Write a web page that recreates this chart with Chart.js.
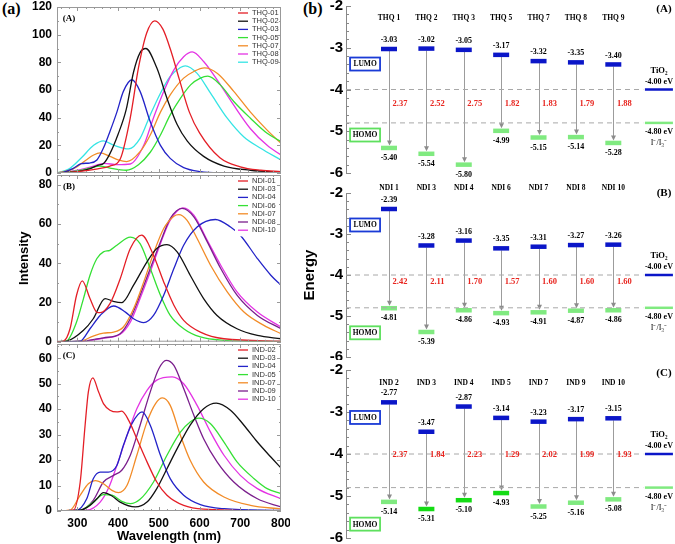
<!DOCTYPE html>
<html>
<head>
<meta charset="utf-8">
<script src="https://cdn.jsdelivr.net/npm/chart.js@4.4.0/dist/chart.umd.min.js"></script>
<style>
body { margin: 0; width: 675px; height: 544px; background: #fff; position: relative; overflow: hidden; }
canvas { position: absolute; }
.tag { position: absolute; font: bold 16px "Liberation Serif", serif; line-height: 16px; }
</style>
</head>
<body>
<div class="tag" style="left:2px;top:1px">(a)</div>
<div class="tag" style="left:303px;top:1px">(b)</div>
<canvas id="sA" width="290" height="176" style="left:0;top:0"></canvas>
<canvas id="sB" width="290" height="176" style="left:0;top:174px"></canvas>
<canvas id="sC" width="290" height="204" style="left:0;top:340px"></canvas>
<canvas id="eA" width="375" height="180" style="left:300px;top:0"></canvas>
<canvas id="eB" width="375" height="182" style="left:300px;top:178px"></canvas>
<canvas id="eC" width="375" height="184" style="left:300px;top:360px"></canvas>
<script>
// ---- (a) absorption spectra, [wavelength nm, intensity]
var wlTicks = [300, 400, 500, 600, 700, 800];
var thqTicks = [0, 20, 40, 60, 80, 100, 120];
var ndiTicks = [0, 20, 40, 60, 80];
var indTicks = [0, 10, 20, 30, 40, 50, 60];

var thqLabels = ['THQ-01', 'THQ-02', 'THQ-03', 'THQ-05', 'THQ-07', 'THQ-08', 'THQ-09'];
var thq01 = [[250,0],[300,1],[350,3],[380,5],[405,10],[430,40],[450,76],[470,101],[490,110],[510,104],[530,88],[550,68],[575,44],[600,29],[650,11],[700,4.5],[750,2],[800,1]];
var thq02 = [[250,0],[300,1],[330,3],[350,5.5],[365,7],[380,14],[400,28],[420,46],[438,73],[454,87],[468,90],[495,76],[520,54],[545,35],[570,23],[610,12],[660,5],[725,2],[800,0.5]];
var thq03 = [[250,0],[265,0.5],[290,3.4],[310,6.8],[330,7.2],[348,9.4],[364,18],[380,30],[397,44],[413,59],[434,67.4],[454,59],[479,37],[504,20],[528,10.6],[561,3.9],[602,1],[650,0.2],[800,0]];
var thq05 = [[250,0],[300,1.5],[330,3.5],[355,5],[380,3.5],[420,2],[450,6],[479,15],[504,27.5],[528,42],[553,54],[578,63.7],[602,68.6],[620,70],[651,63.7],[684,51.7],[725,39.6],[766,28.7],[800,22.7]];
var thq07 = [[250,0],[290,3],[320,9],[340,13],[356,14.5],[380,12],[400,9.5],[421,8.2],[454,15.4],[479,27.5],[504,44],[528,56.5],[561,68.6],[586,73.4],[612,76],[644,72],[684,59],[725,44],[766,31],[800,21.5]];
var thq08 = [[250,0],[300,2],[340,5],[365,7],[398,6],[430,6.5],[463,20],[487,40],[512,59],[537,74.6],[561,84],[582,87.5],[610,80.6],[644,67],[684,49],[725,32],[766,20],[800,13]];
var thq09 = [[250,0],[280,3],[310,11],[340,20],[364,23.2],[390,20],[426,17.4],[454,25],[479,42],[504,57.7],[528,69.8],[553,76.3],[565,77.5],[594,72],[627,57.7],[668,39.6],[709,26],[750,17.9],[800,9.4]];

var ndiLabels = ['NDI-01', 'NDI-03', 'NDI-04', 'NDI-06', 'NDI-07', 'NDI-08', 'NDI-10'];
var ndi01 = [[250,0],[266,0.3],[282,6.6],[298,23.7],[312,31],[331,22],[348,15],[356,14.8],[380,19.4],[405,32],[430,47.5],[458,54.3],[487,44],[512,30.5],[537,18.6],[561,10.9],[602,4.9],[660,1.5],[800,0.3]];
var ndi03 = [[250,0],[274,0.3],[315,5.8],[339,11.7],[368,22],[388,20.6],[409,19.9],[438,28.8],[471,40.7],[495,47.5],[520,49.5],[545,45.8],[577,33.9],[610,22],[643,13.4],[692,6.6],[742,3.2],[800,1.5]];
var ndi04 = [[250,0],[307,0.3],[331,6.6],[356,13.4],[389,18.2],[418,15.1],[438,11.7],[463,9.7],[487,13.4],[512,23.7],[537,37.3],[561,49.2],[594,58.5],[639,62.3],[676,58.5],[700,54.3],[742,42.4],[775,33.9],[800,28.8]];
var ndi06 = [[250,0],[274,0.5],[298,10],[315,22],[331,33.9],[348,42.4],[364,45.8],[380,46.6],[397,49.2],[430,53.3],[454,50],[479,37.3],[504,23.7],[528,13.4],[561,6.6],[602,2.4],[660,0.7],[800,0]];
var ndi07 = [[250,0],[307,0.3],[339,2.9],[364,4.4],[389,4.9],[413,7.5],[438,16.8],[463,30.5],[487,45],[512,57.7],[537,64],[549,64.8],[569,62],[594,52.6],[627,39],[668,25.4],[709,15.1],[758,8.3],[800,4.1]];
var ndi08 = [[250,0],[315,0.3],[364,2],[405,4.1],[430,11.7],[454,23.7],[479,37.3],[504,50.9],[528,62.8],[557,68],[586,63.7],[619,50.9],[652,37.3],[692,23.7],[742,13.4],[800,6.6]];
var ndi10 = [[250,0],[315,0.3],[364,1.8],[405,3.8],[430,10],[454,22],[479,35.6],[504,50],[528,62],[560,68.2],[586,64.5],[619,51.7],[652,39],[692,25.4],[742,15.1],[800,7.5]];

var indLabels = ['IND-02', 'IND-03', 'IND-04', 'IND-05', 'IND-07', 'IND-09', 'IND-10'];
var ind02 = [[250,0],[290,0.3],[307,11.4],[319,33.7],[327,46.8],[338,52.3],[352,46.8],[364,42.2],[380,39.6],[397,38.9],[409,39.2],[426,35.6],[446,28.4],[471,19.3],[495,11.4],[520,6.2],[561,2.2],[610,0.7],[800,0]];
var ind03 = [[250,0],[307,0.3],[331,2.2],[348,4.8],[364,7.2],[385,5.9],[405,3.5],[442,1.6],[471,3.5],[495,8.8],[520,16.6],[545,24.5],[577,33.7],[610,40.2],[641,42.4],[676,39.6],[709,33.7],[742,27.1],[775,21.2],[800,16.9]];
var ind04 = [[250,0],[298,0.3],[323,4.8],[339,12.7],[356,15.3],[376,15.3],[397,17.9],[413,25.8],[434,34.3],[459,38.9],[479,33.7],[504,21.9],[528,12.7],[561,6.2],[602,2.5],[660,0.9],[800,0.2]];
var ind05 = [[250,0],[307,0.3],[339,3.5],[364,6.4],[385,6.2],[409,3.8],[430,2.9],[454,4.6],[487,11.4],[520,21.9],[553,31],[577,35],[598,36.5],[627,34.3],[660,27.1],[692,19.3],[734,12.7],[766,8.8],[800,6.8]];
var ind07 = [[250,0],[282,0.3],[307,6.2],[327,10.7],[344,11.9],[364,10.7],[385,8.1],[401,7.2],[422,10.1],[446,21.9],[471,35],[492,42.2],[509,44.4],[528,41.5],[553,29.7],[577,19.9],[610,11.4],[660,5.5],[725,2.2],[800,0.8]];
var ind09 = [[250,0],[307,0.3],[339,4.2],[364,11.4],[389,14],[409,16],[430,21.9],[454,33.7],[479,46.8],[500,55.9],[518,59.2],[537,57.2],[561,48.1],[586,37.6],[610,28.4],[643,19.3],[684,11.4],[742,4.8],[800,1.6]];
var ind10 = [[250,0],[323,0.3],[356,3.5],[376,8.8],[397,17.9],[422,29.7],[446,40.2],[471,47.4],[495,51.4],[533,52.7],[561,50],[594,41.5],[627,31],[660,21.9],[700,14],[742,8.8],[800,4.8]];

// ---- (b) frontier orbital levels (eV)
var energyTicks = [-6, -5, -4, -3, -2];
var thqNames = ['THQ 1', 'THQ 2', 'THQ 3', 'THQ 5', 'THQ 7', 'THQ 8', 'THQ 9'];
var thqLumo = [-3.03, -3.02, -3.05, -3.17, -3.32, -3.35, -3.40];
var thqHomo = [-5.40, -5.54, -5.80, -4.99, -5.15, -5.14, -5.28];
var thqGap = [2.37, 2.52, 2.75, 1.82, 1.83, 1.79, 1.88];
var ndiNames = ['NDI 1', 'NDI 3', 'NDI 4', 'NDI 6', 'NDI 7', 'NDI 8', 'NDI 10'];
var ndiLumo = [-2.39, -3.28, -3.16, -3.35, -3.31, -3.27, -3.26];
var ndiHomo = [-4.81, -5.39, -4.86, -4.93, -4.91, -4.87, -4.86];
var ndiGap = [2.42, 2.11, 1.70, 1.57, 1.60, 1.60, 1.60];
var indNames = ['IND 2', 'IND 3', 'IND 4', 'IND 5', 'IND 7', 'IND 9', 'IND 10'];
var indLumo = [-2.77, -3.47, -2.87, -3.14, -3.23, -3.17, -3.15];
var indHomo = [-5.14, -5.31, -5.10, -4.93, -5.25, -5.16, -5.08];
var indGap = [2.37, 1.84, 2.23, 1.29, 2.02, 1.99, 1.93];
var tio2Level = -4.00;
var redoxLevel = -4.80;

Chart.defaults.font.family = '"Liberation Sans", Arial, sans-serif';
Chart.defaults.color = '#000';

var RED = '#e41e26', BLACK = '#111', BLUE = '#2323c8', GREEN = '#35e035',
    ORANGE = '#f28c28', MAGENTA = '#e434e4', CYAN = '#35e4e4', PURPLE = '#7a1e8c';

// frame + inward tick marks + panel letter + legend with white box
function spectraDecor(tag, minorY) {
  return {
    id: 'spectraDecor',
    afterDatasetsDraw: function (chart) {
      var ctx = chart.ctx, a = chart.chartArea, x = chart.scales.x, y = chart.scales.y;
      ctx.save();
      // legend
      var n = chart.data.datasets.length;
      ctx.fillStyle = '#fff';
      ctx.fillRect(a.right - 46, a.top + 1, 45, n * 8.2 + 3);
      ctx.font = '7.5px "Liberation Sans"';
      ctx.textBaseline = 'middle';
      chart.data.datasets.forEach(function (ds, i) {
        var ly = a.top + 6 + i * 8.2;
        ctx.strokeStyle = ds.borderColor;
        ctx.lineWidth = 1.3;
        ctx.beginPath(); ctx.moveTo(a.right - 43, ly); ctx.lineTo(a.right - 33, ly); ctx.stroke();
        ctx.fillStyle = '#333';
        ctx.fillText(ds.label, a.right - 29, ly);
      });
      // frame
      ctx.strokeStyle = '#999';
      ctx.lineWidth = 1;
      ctx.strokeRect(a.left + 0.5, a.top + 0.5, a.width - 1, a.height - 1);
      ctx.beginPath();
      for (var w = 260; w < 800; w += 20) {
        var px = Math.round(x.getPixelForValue(w)) + 0.5;
        var len = w % 100 === 0 ? 4 : 2;
        ctx.moveTo(px, a.bottom); ctx.lineTo(px, a.bottom - len);
        ctx.moveTo(px, a.top); ctx.lineTo(px, a.top + len);
      }
      for (var v = 0; v <= y.max; v += minorY) {
        var py = Math.round(y.getPixelForValue(v)) + 0.5;
        var l2 = (v % (2 * minorY) === 0) ? 4 : 2;
        ctx.moveTo(a.left, py); ctx.lineTo(a.left + l2, py);
        ctx.moveTo(a.right, py); ctx.lineTo(a.right - l2, py);
      }
      ctx.stroke();
      ctx.fillStyle = '#000';
      ctx.font = 'bold 9px "Liberation Serif"';
      ctx.textAlign = 'center';
      ctx.fillText(tag, a.left + 12, a.top + 12);
      ctx.restore();
    }
  };
}

function spectraPanel(id, labels, spectra, colors, yTicks, yMax, cfg) {
  new Chart(document.getElementById(id), {
    type: 'line',
    data: {
      datasets: spectra.map(function (s, i) {
        return {
          label: labels[i],
          data: s.map(function (p) { return { x: p[0], y: p[1] }; }),
          borderColor: colors[i],
          borderWidth: 1.3,
          pointRadius: 0,
          cubicInterpolationMode: 'monotone',
          fill: false
        };
      })
    },
    options: {
      responsive: false,
      animation: false,
      events: [],
      layout: { autoPadding: false, padding: cfg.padding },
      plugins: { legend: { display: false }, tooltip: { enabled: false } },
      scales: {
        x: {
          type: 'linear', min: 250, max: 800, display: cfg.showX,
          afterBuildTicks: function (s) { s.ticks = wlTicks.map(function (v) { return { value: v }; }); },
          ticks: { font: { size: 12, weight: 'bold' }, padding: 5, maxRotation: 0 },
          grid: { display: false, drawTicks: false },
          border: { display: false },
          title: { display: true, text: 'Wavelength (nm)', font: { size: 13, weight: 'bold' }, padding: { top: 0, bottom: 0 } },
          afterFit: function (s) { s.height = cfg.showX ? 33 : 0; s.paddingLeft = 0; s.paddingRight = 0; }
        },
        y: {
          min: 0, max: yMax,
          afterBuildTicks: function (s) { s.ticks = yTicks.map(function (v) { return { value: v }; }); },
          ticks: { font: { size: 12, weight: 'bold' }, padding: 5, callback: function (v) { return String(v); } },
          grid: { display: false, drawTicks: false },
          border: { display: false },
          title: { display: !!cfg.yTitle, text: cfg.yTitle || '', font: { size: 13, weight: 'bold' }, padding: { top: 17, bottom: 0 } },
          afterFit: function (s) { s.width = 57; s.paddingTop = 0; s.paddingBottom = 0; }
        }
      }
    },
    plugins: [spectraDecor(cfg.tag, cfg.minorY)]
  });
}

spectraPanel('sA', thqLabels, [thq01, thq02, thq03, thq05, thq07, thq08, thq09],
  [RED, BLACK, BLUE, GREEN, ORANGE, MAGENTA, CYAN], thqTicks, 120,
  { padding: { left: 0, top: 7, right: 9, bottom: 3 }, showX: false, tag: '(A)', minorY: 10 });
spectraPanel('sB', ndiLabels, [ndi01, ndi03, ndi04, ndi06, ndi07, ndi08, ndi10],
  [RED, BLACK, BLUE, GREEN, ORANGE, PURPLE, MAGENTA], ndiTicks, 85,
  { padding: { left: 0, top: 1, right: 9, bottom: 8.3 }, showX: false, tag: '(B)', minorY: 10, yTitle: 'Intensity' });
spectraPanel('sC', indLabels, [ind02, ind03, ind04, ind05, ind07, ind09, ind10],
  [RED, BLACK, BLUE, GREEN, ORANGE, PURPLE, MAGENTA], indTicks, 65.6,
  { padding: { left: 0, top: 4, right: 9, bottom: 0 }, showX: true, tag: '(C)', minorY: 5 });

// ---- energy diagrams
var LUMO_C = '#0b16c8', HOMO_C = '#80ea80', HOMO_DARK = '#14dc14';
var serif = '"Liberation Serif", "Times New Roman", serif';

function energyDecor(names, lumo, homo, gap, cfg) {
  return {
    id: 'energyDecor',
    beforeDatasetsDraw: function (chart) {
      var ctx = chart.ctx, xs = chart.scales.x, ys = chart.scales.y, a = chart.chartArea;
      ctx.save();
      // axis ticks pointing inward
      ctx.strokeStyle = '#888';
      ctx.lineWidth = 1;
      ctx.beginPath();
      for (var k = 0; k <= 20; k++) {
        var e = energyTicks[0] + k * 0.2;
        var py = Math.round(ys.getPixelForValue(e)) + 0.5;
        var len = k % 5 === 0 ? 5 : 3;
        ctx.moveTo(a.left, py); ctx.lineTo(a.left + len, py);
      }
      ctx.stroke();
      // arrows LUMO -> HOMO
      ctx.strokeStyle = '#9c9c9c';
      ctx.fillStyle = '#8c8c8c';
      names.forEach(function (n, i) {
        var x = Math.round(xs.getPixelForValue(i + 1)) + 0.5;
        var yt = ys.getPixelForValue(lumo[i]) + 2;
        var yb = ys.getPixelForValue(homo[i]) - 2.5;
        ctx.beginPath(); ctx.moveTo(x, yt); ctx.lineTo(x, yb - 3); ctx.stroke();
        ctx.beginPath(); ctx.moveTo(x - 2.5, yb - 5); ctx.lineTo(x, yb); ctx.lineTo(x + 2.5, yb - 5); ctx.closePath(); ctx.fill();
      });
      ctx.restore();
    },
    afterDatasetsDraw: function (chart) {
      var ctx = chart.ctx, xs = chart.scales.x, ys = chart.scales.y, a = chart.chartArea;
      ctx.save();
      ctx.textAlign = 'center';
      ctx.textBaseline = 'middle';
      names.forEach(function (n, i) {
        var x = xs.getPixelForValue(i + 1);
        ctx.fillStyle = '#000';
        ctx.font = 'bold 7.5px ' + serif;
        ctx.fillText(n, x, a.top + cfg.nameDy);
        ctx.font = 'bold 8px ' + serif;
        ctx.fillText(lumo[i].toFixed(2), x, ys.getPixelForValue(lumo[i]) - 9);
        ctx.fillText(homo[i].toFixed(2), x, ys.getPixelForValue(homo[i]) + 10);
        ctx.fillStyle = '#e8251f';
        ctx.font = 'bold 8.5px ' + serif;
        ctx.fillText(gap[i].toFixed(2), x + 11, ys.getPixelForValue(cfg.gapE));
      });
      // LUMO / HOMO boxes
      var bx = xs.getPixelForValue(cfg.boxX);
      [['LUMO', cfg.lumoBoxE, '#1a3bd6'], ['HOMO', cfg.homoBoxE, '#5ee05e']].forEach(function (b) {
        var by = ys.getPixelForValue(b[1]);
        ctx.strokeStyle = b[2];
        ctx.lineWidth = 1.8;
        ctx.strokeRect(bx - 15, by - 6.5, 30, 13);
        ctx.fillStyle = '#000';
        ctx.font = 'bold 7.5px ' + serif;
        ctx.fillText(b[0], bx, by + 0.5);
      });
      // reference levels text
      var rx = xs.getPixelForValue(cfg.refX);
      var yT = ys.getPixelForValue(tio2Level), yR = ys.getPixelForValue(redoxLevel);
      ctx.fillStyle = '#000';
      ctx.font = 'bold 8.5px ' + serif;
      ctx.fillText('TiO\u2082', rx, yT - 19);
      ctx.font = 'bold 8px ' + serif;
      ctx.fillText(tio2Level.toFixed(2) + ' eV', rx, yT - 8);
      ctx.fillText(redoxLevel.toFixed(2) + ' eV', rx, yR + 9);
      ctx.font = '8px ' + serif;
      ctx.fillText('I\u207B/I\u2083\u207B', rx, yR + 20);
      // panel letter, top right
      ctx.font = 'bold 11px ' + serif;
      ctx.fillText(cfg.tag, a.right - 11, a.top + cfg.tagDy);
      ctx.restore();
    }
  };
}

function energyPanel(id, names, lumo, homo, gap, cfg) {
  var xs = names.map(function (n, i) { return i + 1; });
  var dash = function (level) {
    return {
      type: 'line', data: [{ x: -0.15, y: level }, { x: 7.8, y: level }],
      borderColor: '#a8a8a8', borderWidth: 1, borderDash: [5, 4], pointRadius: 0
    };
  };
  new Chart(document.getElementById(id), {
    type: 'scatter',
    data: {
      datasets: [
        dash(tio2Level),
        dash(redoxLevel),
        { data: xs.map(function (x, i) { return { x: x, y: lumo[i] }; }), pointStyle: 'line', pointRadius: 8, pointBorderWidth: 4.5, pointBorderColor: LUMO_C },
        { data: xs.map(function (x, i) { return { x: x, y: homo[i] }; }), pointStyle: 'line', pointRadius: 8, pointBorderWidth: 4.5, pointBorderColor: cfg.homoColors },
        { data: [{ x: cfg.refX, y: tio2Level }], pointStyle: 'line', pointRadius: 14, pointBorderWidth: 2.5, pointBorderColor: LUMO_C },
        { data: [{ x: cfg.refX, y: redoxLevel }], pointStyle: 'line', pointRadius: 14, pointBorderWidth: 2.5, pointBorderColor: HOMO_C }
      ]
    },
    options: {
      responsive: false,
      animation: false,
      events: [],
      layout: { autoPadding: false, padding: cfg.padding },
      plugins: { legend: { display: false }, tooltip: { enabled: false } },
      scales: {
        x: { type: 'linear', min: -0.15, max: 8.65, display: false },
        y: {
          min: -6, max: -2,
          afterBuildTicks: function (s) { s.ticks = energyTicks.map(function (v) { return { value: v }; }); },
          ticks: { font: { size: 15, weight: 'bold' }, padding: 3, callback: function (v) { return String(v); } },
          grid: { display: false, drawTicks: false },
          border: { display: true, color: '#888', width: 1 },
          title: { display: !!cfg.yTitle, text: cfg.yTitle || '', font: { size: 15, weight: 'bold' }, padding: { top: 1, bottom: 0 } },
          afterFit: function (s) { s.width = 46; s.paddingTop = 0; s.paddingBottom = 0; }
        }
      }
    },
    plugins: [energyDecor(names, lumo, homo, gap, cfg)]
  });
}

var base = { boxX: 0.36, refX: 8.22 };
energyPanel('eA', thqNames, thqLumo, thqHomo, thqGap, Object.assign({}, base, {
  padding: { left: 0, top: 6, right: 0, bottom: 7 }, nameDy: 12, gapE: -4.34,
  lumoBoxE: -3.39, homoBoxE: -5.09, tag: '(A)', tagDy: 3, homoColors: HOMO_C
}));
energyPanel('eB', ndiNames, ndiLumo, ndiHomo, ndiGap, Object.assign({}, base, {
  padding: { left: 0, top: 15, right: 0, bottom: 3 }, nameDy: -5, gapE: -4.16,
  lumoBoxE: -2.78, homoBoxE: -5.41, tag: '(B)', tagDy: 0, homoColors: HOMO_C, yTitle: 'Energy'
}));
energyPanel('eC', indNames, indLumo, indHomo, indGap, Object.assign({}, base, {
  padding: { left: 0, top: 10, right: 0, bottom: 6 }, nameDy: 13, gapE: -4.03,
  lumoBoxE: -3.13, homoBoxE: -5.67, tag: '(C)', tagDy: 3,
  homoColors: [HOMO_C, HOMO_DARK, HOMO_DARK, HOMO_DARK, HOMO_C, HOMO_C, HOMO_C]
}));
</script>
</body>
</html>
